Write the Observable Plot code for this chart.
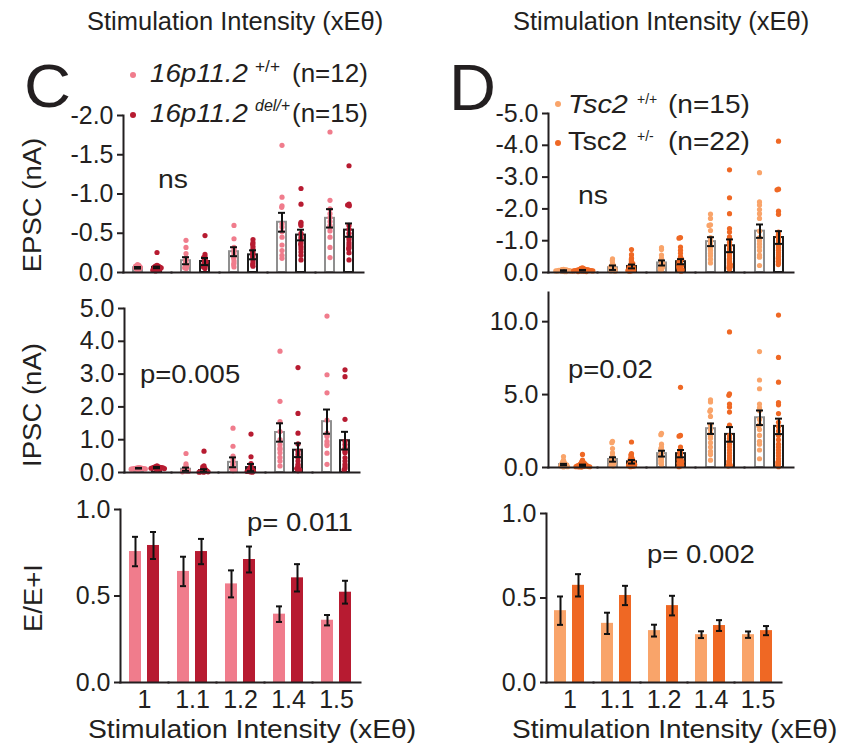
<!DOCTYPE html>
<html><head><meta charset="utf-8">
<script src="https://cdn.jsdelivr.net/npm/d3@7"></script>
<script src="https://cdn.jsdelivr.net/npm/@observablehq/plot@0.6"></script>
<style>
body{margin:0;background:#fff;}
#fig{position:relative;width:845px;height:746px;overflow:hidden;font-family:"Liberation Sans",Arial,sans-serif;color:#231f20;background:#fff;}
#fig svg{position:absolute;overflow:visible;background:transparent;max-width:none;}
.t{position:absolute;white-space:nowrap;line-height:1;transform-origin:0 50%;}
.v{position:absolute;white-space:nowrap;line-height:1;transform-origin:50% 50%;}
.ld{position:absolute;width:6px;height:6px;border-radius:50%;}
</style></head><body><div id="fig"></div>
<script>
// ---------- categories ----------
const intensities = ["1", "1.1", "1.2", "1.4", "1.5"];
const genotypes = ["wt", "mut"];
const axisTitle = "Stimulation Intensity (xEθ)";

// ---------- Panel C: 16p11.2 ----------
// EPSC (nA), individual cells per intensity
const cEpscWtDots = [
  [-0.03,-0.04,-0.05,-0.05,-0.06,-0.06,-0.07,-0.07,-0.08,-0.08,-0.09,-0.1],
  [-0.41,-0.32,-0.24,-0.19,-0.16,-0.14,-0.12,-0.1,-0.09,-0.07,-0.06,-0.05],
  [-0.6,-0.43,-0.32,-0.29,-0.26,-0.23,-0.2,-0.18,-0.15,-0.12,-0.1,-0.07],
  [-1.62,-0.96,-0.85,-0.83,-0.62,-0.58,-0.52,-0.45,-0.35,-0.28,-0.22,-0.18],
  [-1.79,-0.92,-0.81,-0.75,-0.7,-0.65,-0.6,-0.57,-0.53,-0.45,-0.32,-0.19]
];
const cEpscMutDots = [
  [-0.255,-0.09,-0.08,-0.08,-0.07,-0.07,-0.06,-0.06,-0.05,-0.05,-0.04,-0.04,-0.03,-0.03,-0.02],
  [-0.47,-0.23,-0.2,-0.19,-0.17,-0.15,-0.14,-0.13,-0.12,-0.11,-0.1,-0.09,-0.08,-0.07,-0.05],
  [-0.42,-0.38,-0.36,-0.33,-0.3,-0.28,-0.26,-0.24,-0.22,-0.2,-0.18,-0.15,-0.12,-0.1,-0.08],
  [-1.07,-0.87,-0.64,-0.62,-0.6,-0.5,-0.45,-0.42,-0.38,-0.36,-0.33,-0.3,-0.26,-0.22,-0.16],
  [-1.36,-0.87,-0.86,-0.85,-0.6,-0.55,-0.5,-0.45,-0.42,-0.38,-0.35,-0.32,-0.3,-0.25,-0.16]
];
const cEpscWtMean = [-0.06, -0.15, -0.265, -0.64, -0.69];
const cEpscWtSem = [0.01, 0.045, 0.057, 0.12, 0.117];
const cEpscMutMean = [-0.065, -0.14, -0.225, -0.477, -0.54];
const cEpscMutSem = [0.01, 0.045, 0.057, 0.068, 0.085];

// IPSC (nA)
const cIpscWtDots = [
  [0.15,0.14,0.14,0.13,0.13,0.12,0.12,0.11,0.11,0.1,0.1,0.09],
  [0.58,0.26,0.2,0.15,0.12,0.1,0.08,0.06,0.05,0.04,0.03,0.02],
  [1.35,0.8,0.5,0.4,0.3,0.25,0.2,0.15,0.12,0.1,0.08,0.05],
  [3.7,2.17,1.55,1.25,1.0,0.85,0.75,0.7,0.6,0.46,0.35,0.2],
  [4.77,2.98,2.43,1.6,1.2,1.15,1.1,0.95,0.87,0.82,0.59,0.25]
];
const cIpscMutDots = [
  [0.2,0.18,0.17,0.16,0.16,0.15,0.15,0.14,0.14,0.13,0.13,0.12,0.12,0.11,0.1],
  [0.65,0.2,0.17,0.15,0.12,0.1,0.08,0.06,0.05,0.04,0.03,0.02,0.02,0.01,0.01],
  [1.17,0.48,0.27,0.2,0.15,0.12,0.1,0.08,0.07,0.06,0.05,0.04,0.03,0.02,0.01],
  [3.2,1.8,1.2,0.87,0.65,0.55,0.45,0.35,0.25,0.2,0.15,0.12,0.1,0.08,0.05],
  [3.13,2.92,1.62,0.95,0.85,0.75,0.7,0.65,0.6,0.45,0.35,0.25,0.18,0.12,0.08]
];
const cIpscWtMean = [0.13, 0.1, 0.31, 1.22, 1.55];
const cIpscWtSem = [0.01, 0.05, 0.15, 0.28, 0.37];
const cIpscMutMean = [0.15, 0.06, 0.15, 0.68, 0.97];
const cIpscMutSem = [0.02, 0.04, 0.11, 0.21, 0.27];

// E/(E+I)
const cRatioWtMean = [0.757, 0.642, 0.570, 0.395, 0.360];
const cRatioWtSem = [0.085, 0.085, 0.078, 0.045, 0.030];
const cRatioMutMean = [0.792, 0.757, 0.711, 0.605, 0.522];
const cRatioMutSem = [0.078, 0.073, 0.075, 0.079, 0.066];

// ---------- Panel D: Tsc2 ----------
const dEpscWtDots = [
  [-0.1,-0.09,-0.08,-0.08,-0.07,-0.07,-0.06,-0.06,-0.05,-0.05,-0.05,-0.04,-0.04,-0.03,-0.03],
  [-0.43,-0.38,-0.3,-0.25,-0.22,-0.2,-0.18,-0.15,-0.13,-0.11,-0.1,-0.08,-0.06,-0.05,-0.04],
  [-0.78,-0.72,-0.55,-0.45,-0.4,-0.35,-0.3,-0.28,-0.25,-0.2,-0.18,-0.15,-0.12,-0.1,-0.06],
  [-1.84,-1.7,-1.5,-1.48,-1.32,-1.1,-1.0,-0.9,-0.8,-0.75,-0.69,-0.6,-0.53,-0.42,-0.3],
  [-3.14,-2.22,-2.12,-1.98,-1.85,-1.7,-1.3,-1.1,-1.0,-0.9,-0.8,-0.69,-0.55,-0.48,-0.22]
];
const dEpscMutDots = [
  [-0.15,-0.13,-0.12,-0.1,-0.1,-0.09,-0.09,-0.08,-0.08,-0.07,-0.07,-0.07,-0.06,-0.06,-0.06,-0.05,-0.05,-0.05,-0.04,-0.04,-0.03,-0.03],
  [-0.72,-0.56,-0.45,-0.4,-0.35,-0.3,-0.28,-0.25,-0.22,-0.2,-0.18,-0.16,-0.15,-0.13,-0.12,-0.1,-0.09,-0.08,-0.07,-0.06,-0.05,-0.04],
  [-1.1,-1.08,-0.8,-0.7,-0.6,-0.5,-0.45,-0.42,-0.38,-0.35,-0.3,-0.28,-0.25,-0.22,-0.2,-0.18,-0.15,-0.12,-0.1,-0.08,-0.06,-0.04],
  [-3.23,-2.35,-1.85,-1.38,-1.27,-1.12,-1.05,-0.95,-0.85,-0.75,-0.68,-0.6,-0.52,-0.45,-0.4,-0.35,-0.3,-0.26,-0.22,-0.18,-0.15,-0.1],
  [-4.13,-2.62,-2.6,-1.93,-1.83,-1.27,-1.2,-1.15,-1.08,-1.0,-0.92,-0.85,-0.78,-0.7,-0.62,-0.56,-0.5,-0.45,-0.4,-0.35,-0.3,-0.25]
];
const dEpscWtMean = [-0.06, -0.15, -0.3, -0.97, -1.3];
const dEpscWtSem = [0.01, 0.07, 0.08, 0.14, 0.21];
const dEpscMutMean = [-0.07, -0.19, -0.34, -0.84, -1.1];
const dEpscMutSem = [0.01, 0.06, 0.08, 0.2, 0.2];

const dIpscWtDots = [
  [0.75,0.5,0.4,0.35,0.3,0.25,0.22,0.2,0.18,0.15,0.12,0.1,0.08,0.06,0.04],
  [1.8,1.7,1.3,1.0,0.8,0.7,0.6,0.5,0.45,0.4,0.35,0.3,0.2,0.15,0.1],
  [2.35,2.25,1.6,1.4,1.3,1.2,1.0,0.9,0.8,0.7,0.6,0.5,0.4,0.3,0.2],
  [4.64,4.5,3.95,3.85,3.5,2.9,2.6,2.35,2.15,2.0,1.7,1.4,1.1,0.9,0.5],
  [7.95,6.0,5.4,4.35,4.1,3.9,3.3,2.95,2.85,2.6,2.2,1.8,1.6,1.2,0.6]
];
const dIpscMutDots = [
  [0.9,0.5,0.4,0.35,0.3,0.28,0.25,0.22,0.2,0.18,0.16,0.15,0.13,0.12,0.1,0.09,0.08,0.07,0.06,0.05,0.04,0.03],
  [1.75,0.95,0.85,0.75,0.65,0.6,0.55,0.5,0.45,0.4,0.35,0.3,0.28,0.25,0.22,0.2,0.18,0.15,0.12,0.1,0.08,0.05],
  [5.5,2.2,2.15,1.4,1.2,1.1,1.0,0.9,0.8,0.7,0.6,0.55,0.5,0.45,0.4,0.35,0.3,0.25,0.2,0.15,0.1,0.05],
  [9.3,5.05,4.95,4.35,4.15,3.8,2.9,2.2,2.0,1.8,1.6,1.4,1.2,1.0,0.8,0.65,0.5,0.4,0.3,0.2,0.15,0.1],
  [10.45,7.55,5.85,4.45,4.3,3.7,3.1,2.8,2.5,2.2,1.9,1.6,1.4,1.2,1.0,0.8,0.6,0.45,0.35,0.25,0.15,0.05]
];
const dIpscWtMean = [0.2, 0.55, 0.95, 2.66, 3.41];
const dIpscWtSem = [0.05, 0.15, 0.2, 0.36, 0.5];
const dIpscMutMean = [0.15, 0.39, 0.95, 2.27, 2.82];
const dIpscMutSem = [0.05, 0.12, 0.25, 0.5, 0.53];

const dRatioWtMean = [0.425, 0.350, 0.307, 0.283, 0.283];
const dRatioWtSem = [0.084, 0.063, 0.035, 0.020, 0.019];
const dRatioMutMean = [0.575, 0.515, 0.455, 0.337, 0.307];
const dRatioMutSem = [0.066, 0.057, 0.058, 0.032, 0.027];

// ---------- annotations / legend texts ----------
const cStats = ["ns", "p=0.005", "p= 0.011"];
const dStats = ["ns", "p=0.02", "p= 0.002"];
const yTitles = ["EPSC (nA)", "IPSC (nA)", "E/E+I"];

// ---------- colours ----------
const cWtColor = "#f07c8c", cMutColor = "#b71b31";
const dWtColor = "#f9a46a", dMutColor = "#ef6824";

// ---------- build tables ----------
function table(g, means, sems, dots) {
  const bars = intensities.map((s, i) => ({s, g, m: means[i], e: sems[i]}));
  const pts = dots ? intensities.flatMap((s, i) => dots[i].map(v => ({s, g, v}))) : [];
  return {bars, pts};
}

const fig = document.getElementById("fig");
const FONT = '"Liberation Sans", Arial, sans-serif';

function panel(cfg) {
  const {left, axisX, axisEnd, yTopPx, yBotPx, domain, ticks, pi, po, wt, mut, colWt, colMut, scatter, showFx, capInset} = cfg;
  const mT = 14, mB = showFx ? 40 : 8, mR = 0;
  const layout = {
    width: axisEnd + mR - left,
    height: yBotPx + mB - (yTopPx - mT),
    marginLeft: axisX - left, marginRight: mR, marginTop: mT, marginBottom: mB,
    fx: showFx ? {domain: intensities, padding: 0} : {domain: intensities, padding: 0, axis: null},
    x: {domain: genotypes, paddingInner: pi, paddingOuter: po, axis: null},
    y: {domain},
    style: {fontSize: "25px", fontFamily: FONT, background: "transparent", color: "#231f20", overflow: "visible"}
  };
  // read the band geometry so the dodged dots (anchored at facet centre) sit on their bars
  const probe = Plot.plot({...layout, marks: [Plot.barY(wt.bars.concat(mut.bars), {fx: "s", x: "g", y: "m"})]}).scale("x");
  const bw = probe.bandwidth, st = probe.step;
  const marks = [];
  if (scatter) {
    const dodge = {anchor: "middle", padding: 0, r: 0.8};
    marks.push(
      Plot.barY(wt.bars, {fx: "s", x: "g", y: "m", fill: "white", stroke: "#8f8f8f", strokeWidth: 2}),
      Plot.barY(mut.bars, {fx: "s", x: "g", y: "m", fill: "white", stroke: "#1d1d1d", strokeWidth: 2}),
      Plot.dot(wt.pts, Plot.dodgeX(dodge, {fx: "s", y: "v", r: 2.6, fill: colWt, dx: -st / 2 - bw / 2})),
      Plot.dot(mut.pts, Plot.dodgeX(dodge, {fx: "s", y: "v", r: 2.6, fill: colMut, dx: st / 2 - bw / 2}))
    );
  } else {
    marks.push(
      Plot.barY(wt.bars, {fx: "s", x: "g", y: "m", fill: colWt}),
      Plot.barY(mut.bars, {fx: "s", x: "g", y: "m", fill: colMut})
    );
  }
  const all = wt.bars.concat(mut.bars);
  marks.push(
    Plot.ruleX(all, {fx: "s", x: "g", y1: d => d.m - d.e, y2: d => d.m + d.e, stroke: "#111", strokeWidth: 2}),
    Plot.tickY(all, {fx: "s", x: "g", y: d => d.m + d.e, stroke: "#111", strokeWidth: 2, insetLeft: capInset, insetRight: capInset}),
    Plot.tickY(all, {fx: "s", x: "g", y: d => d.m - d.e, stroke: "#111", strokeWidth: 2, insetLeft: capInset, insetRight: capInset}),
    Plot.frame({anchor: "bottom", stroke: "#231f20", strokeWidth: 2}),
    Plot.frame({anchor: "left", facetAnchor: "left", stroke: "#231f20", strokeWidth: 2}),
    Plot.axisY({ticks, tickFormat: d => d.toFixed(1), tickSize: 6, tickPadding: 4, strokeWidth: 2, stroke: "#231f20", label: null, fontSize: 25})
  );
  if (showFx) marks.push(Plot.axisFx({anchor: "bottom", tickSize: 0, tickPadding: 8, label: null, fontSize: 25}));
  const svg = Plot.plot({...layout, marks});
  svg.style.left = left + "px";
  svg.style.top = (yTopPx - mT) + "px";
  fig.appendChild(svg);
}

// Panel C
panel({left: 0, axisX: 123, axisEnd: 363, yTopPx: 115, yBotPx: 272, domain: [0, -2], ticks: [-2, -1.5, -1, -0.5, 0],
  pi: 0.526, po: 0.526, scatter: true, capInset: 1,
  wt: table("wt", cEpscWtMean, cEpscWtSem, cEpscWtDots), mut: table("mut", cEpscMutMean, cEpscMutSem, cEpscMutDots),
  colWt: cWtColor, colMut: cMutColor});
panel({left: 0, axisX: 122, axisEnd: 361, yTopPx: 308, yBotPx: 472, domain: [0, 5], ticks: [0, 1, 2, 3, 4, 5],
  pi: 0.526, po: 0.52, scatter: true, capInset: 1,
  wt: table("wt", cIpscWtMean, cIpscWtSem, cIpscWtDots), mut: table("mut", cIpscMutMean, cIpscMutSem, cIpscMutDots),
  colWt: cWtColor, colMut: cMutColor});
panel({left: 0, axisX: 118, axisEnd: 362, yTopPx: 509, yBotPx: 682, domain: [0, 1], ticks: [0, 0.5, 1],
  pi: 0.316, po: 0.442, scatter: false, showFx: true, capInset: 3,
  wt: table("wt", cRatioWtMean, cRatioWtSem), mut: table("mut", cRatioMutMean, cRatioMutSem),
  colWt: cWtColor, colMut: cMutColor});

// Panel D
panel({left: 420, axisX: 546, axisEnd: 795, yTopPx: 113, yBotPx: 272, domain: [0, -5], ticks: [-5, -4, -3, -2, -1, 0],
  pi: 0.55, po: 0.52, scatter: true, capInset: 1,
  wt: table("wt", dEpscWtMean, dEpscWtSem, dEpscWtDots), mut: table("mut", dEpscMutMean, dEpscMutSem, dEpscMutDots),
  colWt: dWtColor, colMut: dMutColor});
panel({left: 420, axisX: 546, axisEnd: 795, yTopPx: 292, yBotPx: 467, domain: [0, 12], ticks: [0, 5, 10],
  pi: 0.55, po: 0.52, scatter: true, capInset: 1,
  wt: table("wt", dIpscWtMean, dIpscWtSem, dIpscWtDots), mut: table("mut", dIpscMutMean, dIpscMutSem, dIpscMutDots),
  colWt: dWtColor, colMut: dMutColor});
panel({left: 420, axisX: 544, axisEnd: 782, yTopPx: 513, yBotPx: 682, domain: [0, 1], ticks: [0, 0.5, 1],
  pi: 0.316, po: 0.41, scatter: false, showFx: true, capInset: 3,
  wt: table("wt", dRatioWtMean, dRatioWtSem), mut: table("mut", dRatioMutMean, dRatioMutSem),
  colWt: dWtColor, colMut: dMutColor});

// ---------- HTML text ----------
function txt(s, x, baseline, fs, sx = 1.08, italic = false) {
  const d = document.createElement("div");
  d.className = "t";
  d.textContent = s;
  d.style.left = x + "px";
  d.style.top = (baseline - 0.8465 * fs) + "px";
  d.style.fontSize = fs + "px";
  d.style.transform = `scaleX(${sx})`;
  if (italic) d.style.fontStyle = "italic";
  fig.appendChild(d);
}
function vtxt(s, cx, cy, fs, sx = 1.1) {
  const d = document.createElement("div");
  d.className = "v";
  d.textContent = s;
  d.style.left = cx + "px";
  d.style.top = cy + "px";
  d.style.fontSize = fs + "px";
  d.style.transform = `translate(-50%,-50%) rotate(-90deg) scaleX(${sx})`;
  fig.appendChild(d);
}
function ldot(x, y, c) {
  const d = document.createElement("div");
  d.className = "ld";
  d.style.left = (x - 3) + "px";
  d.style.top = (y - 3) + "px";
  d.style.background = c;
  fig.appendChild(d);
}

// titles
txt(axisTitle, 87, 30, 25, 1.02);
txt(axisTitle, 513, 30, 25, 1.02);
txt(axisTitle, 88, 738, 25, 1.13);
txt(axisTitle, 512, 738, 25, 1.12);
// panel letters
txt("C", 24, 107, 62, 1.05);
txt("D", 449, 110, 65, 1.0);
// y titles
vtxt(yTitles[0], 32, 205, 25);
vtxt(yTitles[1], 32, 405, 25);
vtxt(yTitles[2], 33, 598, 25);
// stats
txt(cStats[0], 158, 188, 26, 1.09);
txt(cStats[1], 140, 383, 25, 1.1);
txt(cStats[2], 247, 531, 25, 1.1);
txt(dStats[0], 578, 204, 26, 1.09);
txt(dStats[1], 568, 378, 25, 1.1);
txt(dStats[2], 647, 563, 25, 1.1);
// legend C
ldot(133, 75, cWtColor); ldot(133, 115, cMutColor);
txt("16p11.2", 150, 82, 26, 1.064, true); txt("+/+", 255, 73, 16, 1.08); txt("(n=12)", 292, 82, 26, 1.0);
txt("16p11.2", 150, 122, 26, 1.064, true); txt("del/+", 255, 112, 16, 1.0, true); txt("(n=15)", 292, 122, 26, 1.0);
// legend D
ldot(558, 104, dWtColor); ldot(558, 143, dMutColor);
txt("Tsc2", 568, 113, 26, 1.11, true); txt("+/+", 637, 104, 14, 1.0); txt("(n=15)", 668, 113, 26, 1.08);
txt("Tsc2", 568, 150, 26, 1.11); txt("+/-", 637, 141, 14, 1.0); txt("(n=22)", 668, 150, 26, 1.08);
</script></body></html>
